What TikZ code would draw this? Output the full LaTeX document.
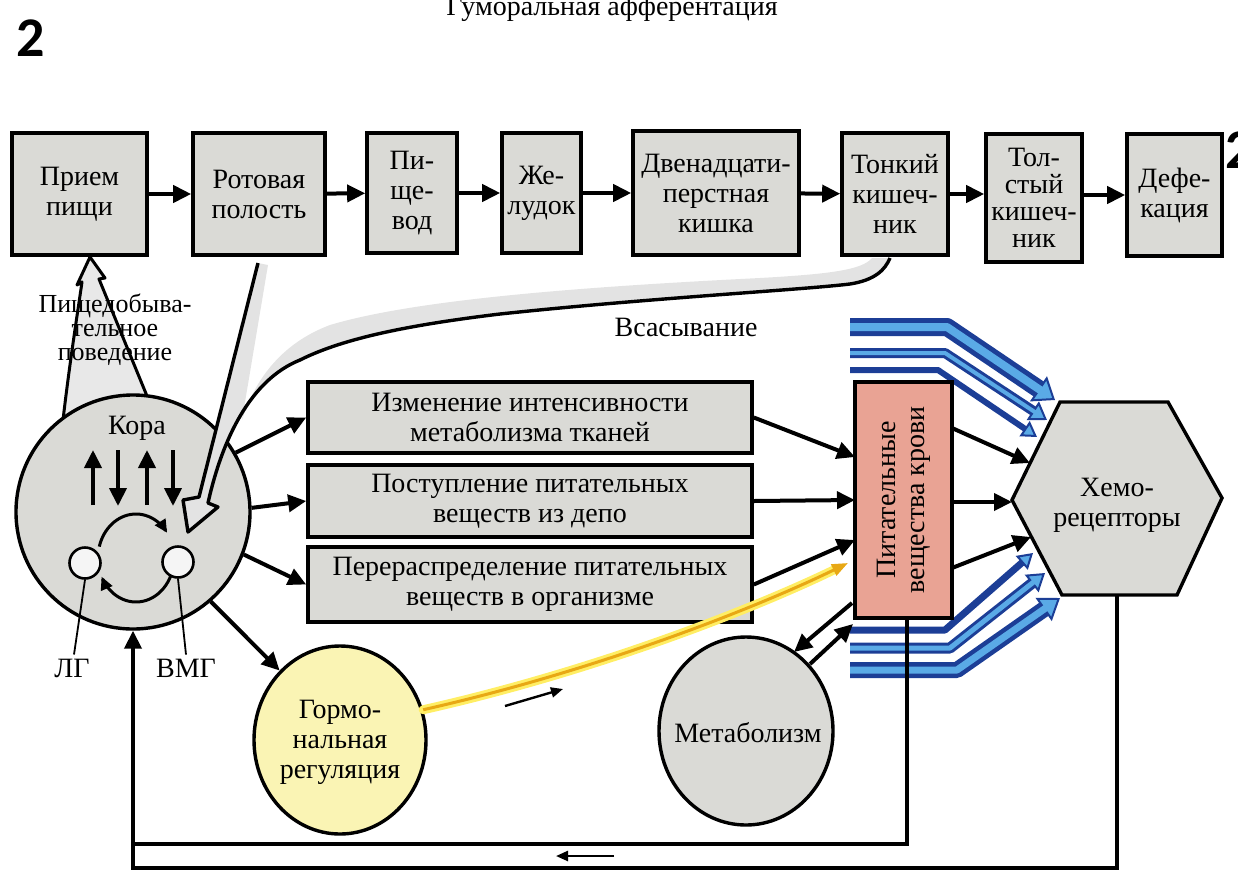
\documentclass[tikz,border=0pt]{standalone}
\usepackage{fontspec}
\setmainfont{Liberation Serif}
\newfontfamily\digitfont{Carlito}
\usetikzlibrary{arrows.meta,shapes.geometric}
\definecolor{boxgray}{RGB}{218,218,214}
\definecolor{pinkfill}{RGB}{233,163,148}
\definecolor{yellowfill}{RGB}{250,244,180}
\definecolor{bandDark}{RGB}{28,62,150}
\definecolor{bandLight}{RGB}{90,170,230}
\definecolor{yelDark}{RGB}{232,168,20}
\definecolor{yelLight}{RGB}{255,238,100}
\newcommand\fA{\fontsize{28}{30}\selectfont}
\newcommand\fB{\fontsize{26}{24}\selectfont}
\newcommand\fC{\fontsize{28}{27}\selectfont}
\begin{document}
\begin{tikzpicture}[x=1pt,y=-1pt,
  box/.style={draw, line width=3.6pt, fill=boxgray, align=center, inner sep=0pt, font=\fA},
  oval/.style={ellipse, draw, line width=3.4pt, inner sep=0pt},
  lbl/.style={align=center, inner sep=0pt, font=\fA},
  arr/.style={line width=4pt, -{Triangle[length=18pt,width=17pt]}},
  thinarr/.style={line width=2.4pt, -{Triangle[length=12pt,width=10pt]}},
  conn/.style={line width=3.6pt},
  ring/.style={line width=3pt, -{Triangle[length=13pt,width=12pt]}},
  bandout/.style={draw=bandDark, line join=round},
  bandin/.style={draw=bandLight, line join=round}
]
\useasboundingbox (0,0) rectangle (1238,873);
\clip (0,0) rectangle (1238,873);

% header texts
\node[inner sep=0pt, font=\digitfont\bfseries\fontsize{56}{56}\selectfont] (num1) at (31,38) {2};
\node[anchor=west, inner sep=0pt, font=\digitfont\bfseries\fontsize{56}{56}\selectfont] (num2) at (1225,150) {2};
\node[anchor=base, inner sep=0pt, font=\fA] (title) at (612,15) {Гуморальная афферентация};

% top row
\node[box, minimum width=135pt, minimum height=122pt] (priem) at (79.5,194) {Прием\\пищи};
\node[box, minimum width=132pt, minimum height=122pt] (rot) at (259,194) {Ротовая\\полость};
\node[box, minimum width=90pt, minimum height=120pt] (pishch) at (412,193) {Пи-\\ще-\\вод};
\node[box, minimum width=79pt, minimum height=120pt] (zhel) at (541.5,193) {Же-\\лудок};
\node[box, minimum width=166pt, minimum height=124pt] (dvn) at (716,193) {Двенадцати-\\перстная\\кишка};
\node[box, minimum width=106pt, minimum height=122pt] (tonk) at (895,194) {Тонкий\\кишеч-\\ник};
\node[box, minimum width=96pt, minimum height=128pt, font=\fC] (tolst) at (1034,198) {Тол-\\стый\\кишеч-\\ник};
\node[box, minimum width=95pt, minimum height=122pt] (defek) at (1174.5,195) {Дефе-\\кация};
\draw[arr] (priem) -- (rot);
\draw[arr] (rot) -- (pishch);
\draw[arr] (pishch) -- (zhel);
\draw[arr] (zhel) -- (dvn);
\draw[arr] (dvn) -- (tonk);
\draw[arr] (tonk.east) -- (tolst.west |- tonk.east);
\draw[arr] (tolst.east |- defek.west) -- (defek.west);

% feeding behaviour arrow (behind the circle)
\fill[gray!18] (63,420) .. controls (70,360) and (78,310) .. (82,282) -- (77,285) -- (90,257) -- (105,278) -- (99,279) -- (147,396) -- cycle;
\draw[line width=3pt, line join=round] (63,420) .. controls (70,360) and (78,310) .. (82,282) -- (77,285) -- (90,257) -- (105,278) -- (99,279) -- (147,396);

% Kora circle
\node[circle, draw, line width=3.4pt, fill=boxgray, minimum size=234pt, inner sep=0pt] (kora) at (133,512) {};
\node[lbl] (koralbl) at (137,428) {Кора};
\draw[arr] (93,505) -- (93,450);
\draw[arr] (118,450) -- (118,506);
\draw[arr] (147,505) -- (147,450);
\draw[arr] (173,450) -- (173,506);
\node[circle, draw, line width=2.6pt, fill=gray!8, minimum size=31pt, inner sep=0pt] (lg) at (85,563) {};
\node[circle, draw, line width=2.6pt, fill=gray!8, minimum size=31pt, inner sep=0pt] (vmg) at (178,562) {};
\draw[ring] plot[domain=0:1, samples=30, smooth, variable=\t] ({136+38*cos(165-130*\t)}, {558-44*sin(165-130*\t)});
\draw[ring] plot[domain=0:1, samples=30, smooth, variable=\t] ({136+38*cos(-25-130*\t)}, {558-44*sin(-25-130*\t)});
\node[lbl] (lglbl) at (72,668) {ЛГ};
\node[lbl] (vmglbl) at (186,668) {ВМГ};
\draw[line width=1.8pt] (lglbl.north) ++(2,-4) -- (lg.south);
\draw[line width=1.8pt] (vmglbl.north) ++(0,-4) -- (vmg.south);

% gray arrow: mouth + absorption
\fill[gray!22] (258,263) -- (199,497) -- (183,500) -- (188,532) -- (218,507) -- (208,503) .. controls (222,440) and (250,380) .. (300,360) .. controls (340,340) and (400,326) .. (500,314) .. controls (650,298) and (800,290) .. (850,284) .. controls (875,280) and (885,270) .. (890,258) -- (872,258) .. controls (862,270) and (830,274) .. (760,278) .. controls (600,286) and (420,298) .. (330,325) .. controls (290,340) and (258,370) .. (242,420) -- (268,265) -- cycle;
\draw[line width=3.4pt, line join=round] (258,263) -- (199,497) -- (183,500) -- (188,532) -- (218,507) -- (208,503) .. controls (222,440) and (250,380) .. (300,360) .. controls (340,340) and (400,326) .. (500,314) .. controls (650,298) and (800,290) .. (850,284) .. controls (875,280) and (885,270) .. (890,258);

\node[font=\fB, align=center, inner sep=0pt] (behav) at (115,330) {Пищедобыва-\\тельное\\поведение};
\node[lbl] (absorb) at (686,327) {Всасывание};

% middle boxes
\node[box, minimum width=444pt, minimum height=71pt] (m1) at (530,417.5) {Изменение интенсивности\\метаболизма тканей};
\node[box, minimum width=444pt, minimum height=72pt] (m2) at (530,501) {Поступление питательных\\веществ  из депо};
\node[box, minimum width=444pt, minimum height=75pt] (m3) at (530,584.5) {Перераспределение питательных\\веществ в организме};
\draw[arr] (kora.30) -- (m1.west);
\draw[arr] (kora.2) -- (m2.west);
\draw[arr] (kora.-21) -- (m3.west);

% hormonal / metabolism
\node[oval, fill=yellowfill, minimum width=172pt, minimum height=188pt] (horm) at (340,740) {};
\node[lbl] (hormtxt) at (340,742) {Гормо-\\нальная\\регуляция};
\node[oval, fill=boxgray, minimum width=174pt, minimum height=188pt] (metab) at (746,731) {};
\node[lbl] (metabtxt) at (748,733) {Метаболизм};
\draw[arr] (kora.-49) -- (horm.131);

% blue bands
\draw[bandout, line width=18pt, -{Triangle[length=20pt,width=30pt,fill=bandLight,line width=2pt]}] (850,327) -- (947,327) -- (1055,400);
\draw[bandin, line width=8pt, shorten >=16pt] (850,327) -- (947,327) -- (1055,400);
\draw[bandout, line width=10pt, -{Triangle[length=17pt,width=22pt,fill=bandLight,line width=2pt]}] (850,353) -- (945,353) -- (1047,420);
\draw[bandin, line width=4pt, shorten >=14pt] (850,353) -- (945,353) -- (1047,420);
\draw[bandout, line width=6pt, -{Triangle[length=15pt,width=18pt,fill=bandLight,line width=2pt]}] (850,370) -- (938,370) -- (1037,437);
\draw[bandout, line width=7pt, -{Triangle[length=15pt,width=18pt,fill=bandLight,line width=2pt]}] (850,630) -- (945,630) -- (1033,553);
\draw[bandout, line width=11pt, -{Triangle[length=17pt,width=22pt,fill=bandLight,line width=2pt]}] (850,648) -- (950,648) -- (1045,573);
\draw[bandin, line width=5pt, shorten >=14pt] (850,648) -- (950,648) -- (1045,573);
\draw[bandout, line width=16pt, -{Triangle[length=20pt,width=28pt,fill=bandLight,line width=2pt]}] (850,670) -- (957,670) -- (1060,598);
\draw[bandin, line width=7pt, shorten >=16pt] (850,670) -- (957,670) -- (1060,598);

% blood box
\node[draw, line width=3.4pt, fill=pinkfill, minimum width=97pt, minimum height=236pt, inner sep=0pt] (blood) at (903.5,500) {};
\node[rotate=90, align=center, inner sep=0pt, font=\fontsize{28}{29}\selectfont] (bloodtxt) at (blood.center) {Питательные\\вещества крови};

% hexagon
\draw[line width=3.4pt, fill=boxgray, line join=miter] (1012,500) -- (1060,402) -- (1168,402) -- (1222,498) -- (1177,595) -- (1062,595) -- cycle;
\node[lbl] (hex) at (1117,505) {Хемо-\\рецепторы};

% arrows into and out of blood box
\coordinate (b1in) at (855,457);
\coordinate (b2in) at (855,500);
\coordinate (b3in) at (855,540);
\draw[arr] (m1.east) -- (b1in);
\draw[arr] (m2.east) -- (b2in);
\draw[arr] (m3.east) -- (b3in);
\coordinate (bo1) at (952,428);
\coordinate (bo2) at (952,502);
\coordinate (bo3) at (952,568);
\coordinate (h1) at (1030,463);
\coordinate (h2) at (1012,502);
\coordinate (h3) at (1031,537);
\draw[arr] (bo1) -- (h1);
\draw[arr] (bo2) -- (h2);
\draw[arr] (bo3) -- (h3);
\coordinate (bm1) at (852,603);
\coordinate (mb1) at (794,652);
\coordinate (mb2) at (810,664);
\coordinate (bm2) at (853,624);
\draw[arr] (bm1) -- (mb1);
\draw[arr] (mb2) -- (bm2);

% yellow hormonal arrow
\coordinate (yend) at (848,563);
\draw[yelLight, line width=9pt, line cap=round, shorten >=14pt] (horm.20) .. controls (600,670) and (760,606) .. (yend);
\draw[yelDark, line width=3pt, -{Triangle[length=16pt,width=12pt]}] (horm.20) .. controls (600,670) and (760,606) .. (yend);
\coordinate (sa1) at (505,706);
\coordinate (sa2) at (563,689);
\draw[thinarr] (sa1) -- (sa2);

% feedback loops
\coordinate (bb) at (907,618);
\coordinate (bb2) at (907,844);
\coordinate (bl) at (133,844);
\draw[conn] (bb) -- (bb2) -- (bl);
\coordinate (hexb) at (1117,595);
\coordinate (c1) at (1117,868);
\coordinate (c2) at (133,868);
\draw[arr] (hexb) -- (c1) -- (c2) -- (kora.south);
\coordinate (sb1) at (614,856);
\coordinate (sb2) at (556,856);
\draw[thinarr] (sb1) -- (sb2);
\end{tikzpicture}
\end{document}
